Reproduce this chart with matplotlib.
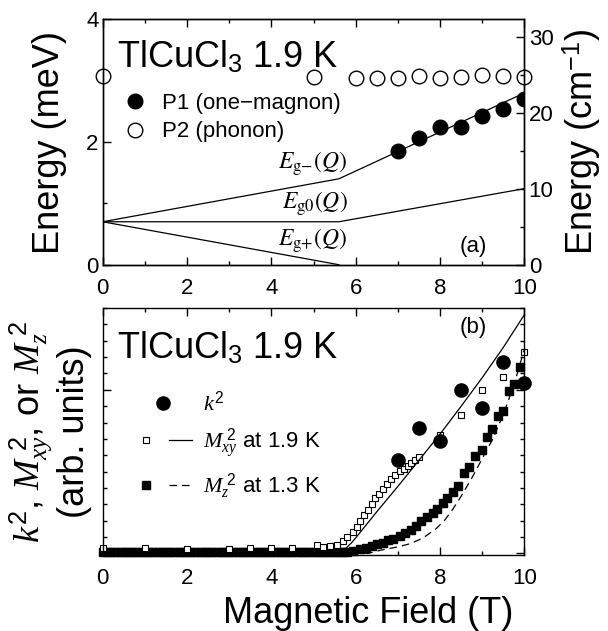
import numpy as np
import matplotlib
matplotlib.use("Agg")
import matplotlib.pyplot as plt
from matplotlib.ticker import MultipleLocator, NullFormatter
from matplotlib.legend_handler import HandlerTuple

plt.rcParams['font.family'] = ['Liberation Sans', 'DejaVu Sans']
plt.rcParams['mathtext.fontset'] = 'custom'
plt.rcParams['mathtext.rm'] = 'Liberation Sans'
plt.rcParams['mathtext.it'] = 'Liberation Serif:italic'
plt.rcParams['mathtext.bf'] = 'Liberation Sans:bold'
plt.rcParams['axes.linewidth'] = 1.0

# ---- panel (a): ESR energies ----
field_p1 = [7.0, 7.5, 8.0, 8.5, 9.0, 9.5, 10.0]
energy_p1 = [1.85, 2.07, 2.25, 2.24, 2.43, 2.54, 2.70]
field_p2 = [0.0, 5.0, 6.0, 6.5, 7.0, 7.5, 8.0, 8.5, 9.0, 9.5, 10.0]
energy_p2 = [3.08, 3.06, 3.04, 3.04, 3.05, 3.08, 3.04, 3.06, 3.09, 3.08, 3.06]

# triplet branches
field_gm = [0.0, 5.6, 10.0]
energy_gm = [0.70, 1.40, 2.80]
field_g0 = [0.0, 5.6, 10.0]
energy_g0 = [0.70, 0.70, 1.24]
field_gp = [0.0, 5.6]
energy_gp = [0.70, 0.0]

MEV_TO_CM = 8.0655

# ---- panel (b): intensities ----
k2_field = [7.0, 7.5, 8.0, 8.5, 9.0, 9.5, 10.0]
k2_val = [5.68, 7.64, 6.89, 9.97, 8.86, 11.70, 10.44]

mxy_field = [0.0, 1.0, 2.0, 3.0, 3.5, 4.0, 4.5, 5.08, 5.23, 5.40, 5.55, 5.69,
             5.80, 5.93, 6.02, 6.10, 6.20, 6.28, 6.38, 6.46, 6.56, 6.64, 6.74,
             6.83, 6.93, 7.04, 7.15, 7.23, 7.31, 7.41, 7.51, 8.0, 8.5, 9.0,
             9.5, 10.0]
mxy_val = [0.30, 0.30, 0.28, 0.28, 0.30, 0.30, 0.30, 0.50, 0.41, 0.46, 0.54,
           0.75, 0.99, 1.32, 1.62, 1.96, 2.33, 2.67, 3.04, 3.38, 3.64, 3.95,
           4.23, 4.55, 4.82, 5.06, 5.16, 5.36, 5.53, 5.69, 5.87, 7.26, 8.47,
           9.99, 10.79, 12.29]

mz_field = [0.0, 0.1, 0.2, 0.3, 0.4, 0.5, 0.6, 0.7, 0.8, 0.9,
            1.0, 1.1, 1.2, 1.3, 1.4, 1.5, 1.6, 1.7, 1.8, 1.9,
            2.0, 2.1, 2.2, 2.3, 2.4, 2.5, 2.6, 2.7, 2.8, 2.9,
            3.0, 3.1, 3.2, 3.3, 3.4, 3.5, 3.6, 3.7, 3.8, 3.9,
            4.0, 4.1, 4.2, 4.3, 4.4, 4.5, 4.6, 4.7, 4.8, 4.9,
            5.0, 5.1, 5.2, 5.3, 5.4, 5.5, 5.6, 5.7, 5.8, 5.94,
            6.10, 6.25, 6.38, 6.50, 6.64, 6.77, 6.89, 7.04, 7.17, 7.31,
            7.42, 7.54, 7.69, 7.83, 7.92, 8.06, 8.17, 8.30, 8.42, 8.56,
            8.69, 8.83, 8.99, 9.11, 9.24, 9.38, 9.50, 9.64, 9.76, 9.90]
mz_val = [0.08, 0.08, 0.08, 0.08, 0.08, 0.08, 0.08, 0.08, 0.08, 0.08,
          0.08, 0.08, 0.08, 0.08, 0.08, 0.08, 0.08, 0.08, 0.08, 0.08,
          0.08, 0.08, 0.08, 0.08, 0.08, 0.08, 0.08, 0.08, 0.08, 0.08,
          0.08, 0.08, 0.08, 0.08, 0.08, 0.08, 0.08, 0.08, 0.08, 0.08,
          0.08, 0.08, 0.08, 0.08, 0.08, 0.08, 0.08, 0.08, 0.08, 0.08,
          0.08, 0.08, 0.08, 0.08, 0.08, 0.08, 0.08, 0.08, 0.06, 0.14,
          0.26, 0.34, 0.47, 0.55, 0.65, 0.79, 0.91, 1.07, 1.26, 1.46,
          1.66, 1.96, 2.23, 2.47, 2.73, 3.10, 3.38, 3.78, 4.10, 4.93,
          5.27, 5.98, 6.34, 7.09, 7.60, 8.41, 8.70, 9.90, 10.33, 11.38]

# calculated curves
fit_xy_field = [0.0, 5.6, 5.7, 5.8, 5.9, 6.0, 6.5, 7.0, 7.5, 8.0, 8.5, 9.0, 9.5, 10.0]
fit_xy_val = [0.0, 0.0, 0.15, 0.4, 0.65, 0.95, 2.55, 4.1, 5.7, 7.3, 9.0, 10.75, 12.6, 14.6]
fit_z_field = [0.0, 6.3, 6.6, 7.0, 7.3, 7.6, 7.9, 8.1, 8.3, 8.5, 8.75, 9.0, 9.25,
               9.5, 9.75, 10.0]
fit_z_val = [0.0, 0.0, 0.2, 0.4, 0.6, 0.95, 1.5, 2.0, 2.7, 3.5, 4.6, 5.8, 7.0,
             8.5, 10.3, 12.5]

fig = plt.figure(figsize=(6.08, 6.31), dpi=100)
ax1 = fig.add_axes([0.1689, 0.5805, 0.6937, 0.3889])
ax2 = fig.add_axes([0.1689, 0.1204, 0.6937, 0.3914])


def style_x(ax):
    ax.set_xlim(0, 10)
    ax.xaxis.set_major_locator(MultipleLocator(2))
    ax.xaxis.set_minor_locator(MultipleLocator(1))
    ax.tick_params(axis='both', which='both', direction='in', labelsize=16, width=1.0)
    ax.tick_params(which='major', length=6, pad=3)
    ax.tick_params(which='minor', length=3)
    ax.tick_params(axis='x', which='major', pad=9.5)


# ---- panel (a) ----
style_x(ax1)
ax1.set_ylim(0, 4)
ax1.yaxis.set_major_locator(MultipleLocator(2))
ax1.yaxis.set_minor_locator(MultipleLocator(1))
ax1.tick_params(which='both', top=True, right=False)

ax1.plot(field_gm, energy_gm, color='black', lw=0.9)
ax1.plot(field_g0, energy_g0, color='black', lw=0.9)
ax1.plot(field_gp, energy_gp, color='black', lw=0.9)
h_p1, = ax1.plot(field_p1, energy_p1, 'o', color='black', ms=10.5, ls='none')
h_p2, = ax1.plot(field_p2, energy_p2, 'o', mfc='white', mec='black', mew=1.0,
                 ms=10.5, ls='none', clip_on=False)

ax1.text(5.8, 1.57, r'$E_{\mathrm{g}{-}}(Q)$', ha='right', va='baseline', fontsize=17,
         math_fontfamily='stix')
ax1.text(5.8, 0.92, r'$E_{\mathrm{g0}}(Q)$', ha='right', va='baseline', fontsize=17,
         math_fontfamily='stix')
ax1.text(5.8, 0.305, r'$E_{\mathrm{g}{+}}(Q)$', ha='right', va='baseline', fontsize=17,
         math_fontfamily='stix')
ax1.text(8.79, 0.30, '(a)', ha='center', va='center', fontsize=16)
ax1.text(0.033, 0.80, r'TlCuCl$_3$ 1.9 K', transform=ax1.transAxes,
         ha='left', va='baseline', fontsize=26)

ax1.legend([h_p1, h_p2], ['P1 (one\u2212magnon)', 'P2 (phonon)'], loc='upper left',
           bbox_to_anchor=(0.05, 0.70), frameon=False, fontsize=16,
           handlelength=1.0, handletextpad=0.7, borderpad=0, borderaxespad=0,
           labelspacing=0.34)

ax1.set_ylabel('Energy (meV)', fontsize=26)
ax1.yaxis.set_label_coords(-0.085, 0.5)

ax1r = ax1.twinx()
ax1r.set_ylim(0, 4 * MEV_TO_CM)
ax1r.yaxis.set_major_locator(MultipleLocator(10))
ax1r.yaxis.set_minor_locator(MultipleLocator(5))
ax1r.tick_params(which='both', direction='in', labelsize=16, width=1.0)
ax1r.tick_params(which='major', length=6, pad=3)
ax1r.tick_params(which='minor', length=3)
ax1r.set_ylabel(r'Energy (cm$^{-1}$)', fontsize=26)
ax1r.yaxis.set_label_coords(1.087, 0.5)

# ---- panel (b) ----
style_x(ax2)
ax2.set_ylim(-0.1, 15)
ax2.yaxis.set_major_locator(MultipleLocator(10))
ax2.yaxis.set_minor_locator(MultipleLocator(1))
ax2.yaxis.set_major_formatter(NullFormatter())
ax2.tick_params(which='both', top=True, right=True)

h_mz, = ax2.plot(mz_field, mz_val, 's', color='black', ms=5.5, ls='none', clip_on=False)
h_mxy, = ax2.plot(mxy_field, mxy_val, 's', mfc='white', mec='black', mew=0.8,
                  ms=5, ls='none', clip_on=False)
l_xy, = ax2.plot(fit_xy_field, fit_xy_val, color='black', lw=0.9)
l_z, = ax2.plot(fit_z_field, fit_z_val, color='black', lw=0.9, ls=(0, (6, 4)))
h_k2, = ax2.plot(k2_field, k2_val, 'o', color='black', ms=9.5, ls='none', clip_on=False)

ax2.text(8.79, 13.8, '(b)', ha='center', va='center', fontsize=16)
ax2.text(0.033, 0.796, r'TlCuCl$_3$ 1.9 K', transform=ax2.transAxes,
         ha='left', va='baseline', fontsize=26)

ax2.legend([h_k2, (h_mxy, l_xy), (h_mz, l_z)],
           [r'$k^2$', r'$M_{xy}^{\ 2}$ at 1.9 K', r'$M_z^{\ 2}$ at 1.3 K'],
           handler_map={tuple: HandlerTuple(ndivide=None, pad=0.5)},
           loc='upper left', bbox_to_anchor=(0.075, 0.665), frameon=False,
           fontsize=16, handlelength=2.6, handletextpad=0.5, borderpad=0,
           borderaxespad=0, labelspacing=0.5)

ax2.set_ylabel('$k^2$, $M_{xy}^{\\ 2}$, or $M_z^{\\ 2}$\n(arb. units)', fontsize=26,
               linespacing=1.1)
ax2.yaxis.set_label_coords(-0.025, 0.5)
ax2.set_xlabel('Magnetic Field (T)', fontsize=26)
ax2.xaxis.set_label_coords(0.63, -0.165)

fig.savefig('out.png', dpi=100)
